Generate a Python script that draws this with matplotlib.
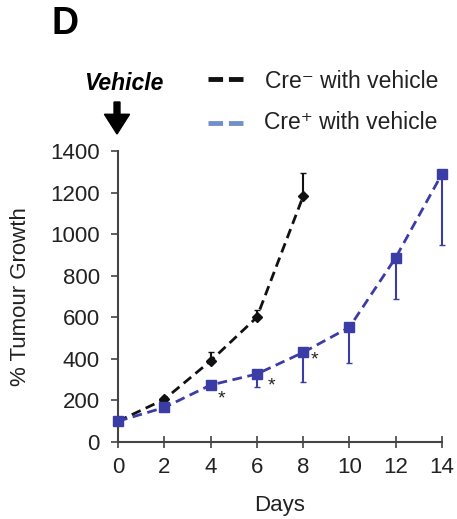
import matplotlib
matplotlib.use("Agg")
import matplotlib.pyplot as plt

days_neg = [0, 2, 4, 6, 8]
growth_neg = [100, 205, 390, 600, 1182]
err_neg = [0, 10, 45, 37, 112]

days_pos = [0, 2, 4, 6, 8, 10, 12, 14]
growth_pos = [100, 166, 274, 327, 431, 552, 887, 1290]
err_pos = [0, 10, 20, 61, 141, 173, 198, 343]

star_x = [4.48, 6.64, 8.51]
star_y = [205, 271, 395]

xticks = [0, 2, 4, 6, 8, 10, 12, 14]
yticks = [0, 200, 400, 600, 800, 1000, 1200, 1400]

plt.rcParams['font.family'] = ['Liberation Sans', 'DejaVu Sans']
fig = plt.figure(figsize=(4.57, 5.19), dpi=100)
ax = fig.add_axes([118/457, 1-442/519, (442-118)/457, (442-151)/519])

dark_blue = '#3c3ca6'
e1 = ax.errorbar(days_neg, growth_neg, yerr=[[0]*len(err_neg), err_neg], color='#111111',
            ls=(0, (3.5, 2)), lw=2, marker='D', ms=5, capsize=2, elinewidth=1.5, zorder=3)
e2 = ax.errorbar(days_pos, growth_pos, yerr=[err_pos, [0]*len(err_pos)], color=dark_blue,
            ls=(0, (3.5, 2)), lw=2, marker='s', ms=7.5, capsize=2, elinewidth=1.5, zorder=4)
for e in (e1, e2):
    for art in e.get_children():
        art.set_clip_on(False)
for sx, sy in zip(star_x, star_y):
    ax.text(sx, sy, '*', fontsize=14, ha='center', va='center', color='#222222')

ax.set_xlim(0, 14)
ax.set_ylim(0, 1400)
ax.set_xticks(xticks)
ax.set_yticks(yticks)
ax.tick_params(axis='both', labelsize=16, color='#444444', labelcolor='#222222', length=5, width=1.2)
ax.tick_params(axis='y', pad=8)
ax.tick_params(axis='x', direction='inout', length=8, pad=7)
for s in ['top', 'right']:
    ax.spines[s].set_visible(False)
for s in ['left', 'bottom']:
    ax.spines[s].set_color('#444444')
    ax.spines[s].set_linewidth(1.5)
ax.set_xlabel('Days', fontsize=16, color='#222222', labelpad=12)
ax.set_ylabel('% Tumour Growth', fontsize=16, color='#222222', labelpad=14)

fig.text(52/457, 1-24/519, 'D', fontsize=27, fontweight='bold', va='center', ha='left')
fig.text(124/457, 1-84/519, 'Vehicle', fontsize=16.5, fontweight='bold', style='italic', ha='center', va='center')
fig.patches.append(matplotlib.patches.FancyArrow(117/457, 1-102/519, 0, -32/519, width=0.013,
                   head_width=0.055, head_length=0.038, length_includes_head=True,
                   color='black', transform=fig.transFigure, figure=fig))

fig.add_artist(matplotlib.lines.Line2D([208/457, 247/457], [1-79/519]*2, color='#111111', lw=3.5, ls=(0, (3, 1.2))))
fig.add_artist(matplotlib.lines.Line2D([208/457, 247/457], [1-123/519]*2, color='#7090cc', lw=3.5, ls=(0, (3, 1.2))))
fig.text(265/457, 1-81/519, 'Cre\u207b with vehicle', fontsize=16.5, va='center', ha='left', color='#222222')
fig.text(264/457, 1-123/519, 'Cre\u207a with vehicle', fontsize=16.5, va='center', ha='left', color='#222222')

fig.savefig('out.png', dpi=100)
